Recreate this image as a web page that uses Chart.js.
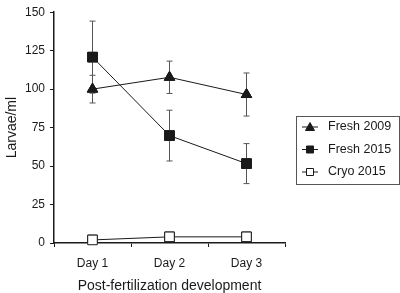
<!DOCTYPE html>
<html>
<head>
<meta charset="utf-8">
<script src="https://cdn.jsdelivr.net/npm/chart.js@4/dist/chart.umd.min.js"></script>
<style>
  body { margin: 0; background: #fff; }
  #wrap { width: 400px; height: 293px; }
</style>
</head>
<body>
<div id="wrap"><canvas id="larvae" width="400" height="293"></canvas></div>
<script>
var days = ['Day 1', 'Day 2', 'Day 3'];
var yTicks = [0, 25, 50, 75, 100, 125, 150];

var fresh2009 = [100, 107.7, 96.5];
var fresh2009Err = [9, 10.5, 14];
var fresh2015 = [120.8, 69.8, 51.6];
var fresh2015Err = [23.4, 16.5, 13];
var cryo2015 = [2, 4, 4];

var ink = '#1a1a1a';
var font = '"Liberation Sans", Arial, sans-serif';

// error bars drawn from the y scale
var errorBars = {
    id: 'errorBars',
    afterDatasetsDraw: function(chart) {
        var ctx = chart.ctx;
        var y = chart.scales.y;
        chart.data.datasets.forEach(function(ds, i) {
            if (!ds.errors) return;
            var meta = chart.getDatasetMeta(i);
            meta.data.forEach(function(pt, j) {
                var hi = y.getPixelForValue(ds.data[j] + ds.errors[j]);
                var lo = y.getPixelForValue(ds.data[j] - ds.errors[j]);
                ctx.save();
                ctx.strokeStyle = '#555';
                ctx.lineWidth = 1;
                ctx.beginPath();
                ctx.moveTo(pt.x, hi); ctx.lineTo(pt.x, lo);
                ctx.moveTo(pt.x - 3, hi); ctx.lineTo(pt.x + 3, hi);
                ctx.moveTo(pt.x - 3, lo); ctx.lineTo(pt.x + 3, lo);
                ctx.stroke();
                ctx.restore();
            });
        });
        // redraw points on top of the bars
        chart.data.datasets.forEach(function(ds, i) {
            chart.getDatasetMeta(i).data.forEach(function(pt) { pt.draw(ctx, chart.chartArea); });
        });
    }
};

// boxed legend with a short line through each marker
var boxLegend = {
    id: 'boxLegend',
    afterDraw: function(chart) {
        var ctx = chart.ctx;
        var x0 = 296, y0 = 116, w = 103, h = 68;
        ctx.save();
        ctx.strokeStyle = '#555';
        ctx.lineWidth = 1;
        ctx.strokeRect(x0 + 0.5, y0 + 0.5, w, h);
        chart.data.datasets.forEach(function(ds, i) {
            var cy = 127 + i * 22.5;
            ctx.strokeStyle = ink;
            ctx.beginPath();
            ctx.moveTo(302, cy); ctx.lineTo(318, cy);
            ctx.stroke();
            ctx.fillStyle = ds.pointBackgroundColor;
            ctx.beginPath();
            if (ds.pointStyle === 'triangle') {
                ctx.moveTo(310, cy - 4.5); ctx.lineTo(314.5, cy + 3.5); ctx.lineTo(305.5, cy + 3.5);
            } else {
                ctx.rect(306.5, cy - 3.5, 7, 7);
            }
            ctx.closePath();
            ctx.fill();
            ctx.stroke();
            ctx.fillStyle = ink;
            ctx.font = '12.5px ' + font;
            ctx.textBaseline = 'middle';
            ctx.fillText(ds.label, 328, cy);
        });
        ctx.restore();
    }
};

new Chart(document.getElementById('larvae'), {
    type: 'line',
    data: {
        labels: days,
        datasets: [{
            label: 'Fresh 2009',
            data: fresh2009,
            errors: fresh2009Err,
            borderColor: ink,
            borderWidth: 1,
            pointStyle: 'triangle',
            pointRadius: 6,
            pointBackgroundColor: ink,
            pointBorderColor: ink,
            tension: 0
        }, {
            label: 'Fresh 2015',
            data: fresh2015,
            errors: fresh2015Err,
            borderColor: ink,
            borderWidth: 1,
            pointStyle: 'rect',
            pointRadius: 6.8,
            pointBackgroundColor: ink,
            pointBorderColor: ink,
            tension: 0
        }, {
            label: 'Cryo 2015',
            data: cryo2015,
            borderColor: ink,
            borderWidth: 1,
            pointStyle: 'rect',
            pointRadius: 6.8,
            pointBackgroundColor: '#fff',
            pointBorderColor: ink,
            tension: 0
        }]
    },
    options: {
        responsive: false,
        animation: false,
        layout: { padding: { top: 4, right: 115, left: 4, bottom: 0 } },
        plugins: {
            legend: { display: false },
            tooltip: { enabled: false }
        },
        scales: {
            x: {
                offset: true,
                grid: { offset: true, drawOnChartArea: false, tickLength: 4, color: ink },
                border: { color: ink, width: 1.5 },
                ticks: { color: ink, font: { family: font, size: 12 }, padding: 9 },
                title: { display: true, text: 'Post-fertilization development', color: ink,
                         font: { family: font, size: 14 }, padding: { top: 0, bottom: -2 } },
                afterFit: function(s) { s.height = 50; }
            },
            y: {
                min: 0, max: 150,
                afterBuildTicks: function(s) { s.ticks = yTicks.map(function(v) { return { value: v }; }); },
                grid: { drawOnChartArea: false, tickLength: 4, color: ink },
                border: { color: ink, width: 1.5 },
                ticks: { color: ink, font: { family: font, size: 12 }, padding: 5 },
                title: { display: true, text: 'Larvae/ml', color: ink,
                         font: { family: font, size: 14 }, padding: 0 },
                afterFit: function(s) { s.width = 50; }
            }
        }
    },
    plugins: [errorBars, boxLegend]
});
</script>
</body>
</html>
